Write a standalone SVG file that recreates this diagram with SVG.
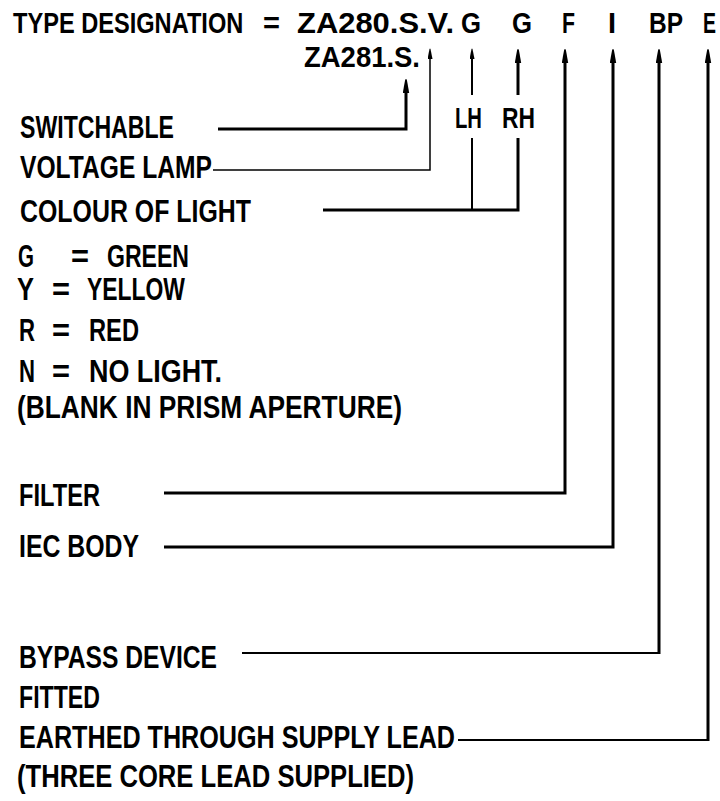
<svg xmlns="http://www.w3.org/2000/svg" width="720" height="801" viewBox="0 0 720 801">
<style>
.t{font-family:"Liberation Sans",Arial,sans-serif;font-weight:bold;font-size:31px;fill:#000}
.tt{font-size:29px}
.c{fill:none;stroke:#000;stroke-linejoin:miter;stroke-linecap:butt}
</style>
<defs>
<marker id="ahL" markerUnits="userSpaceOnUse" viewBox="0 0 15 7" markerWidth="15" markerHeight="7" refX="5" refY="3.5" orient="auto">
<path d="M0,0.3 L13,2.6 Q15,3.5 13,4.4 L0,6.7 Z" fill="#000"/>
</marker>
<marker id="ahS" markerUnits="userSpaceOnUse" viewBox="0 0 11 5" markerWidth="11" markerHeight="5" refX="4" refY="2.5" orient="auto">
<path d="M0,0 L10,2 Q11,2.5 10,3 L0,5 Z" fill="#000"/>
</marker>
</defs>
<rect width="720" height="801" fill="#fff"/>

<g id="title">
<text class="t" style="font-size:23.6px" transform="translate(13,33) scale(1,1.229)">TYPE DESIGNATION</text>
<text class="t tt" x="263" y="33">=</text>
<text class="t tt" x="297" y="33" textLength="157" lengthAdjust="spacingAndGlyphs">ZA280.S.V.</text>
<text class="t tt" x="461" y="33" textLength="20" lengthAdjust="spacingAndGlyphs">G</text>
<text class="t tt" x="512" y="33" textLength="20" lengthAdjust="spacingAndGlyphs">G</text>
<text class="t tt" x="562" y="33" textLength="13" lengthAdjust="spacingAndGlyphs">F</text>
<text class="t tt" x="608" y="33">I</text>
<text class="t tt" x="649" y="33" textLength="34" lengthAdjust="spacingAndGlyphs">BP</text>
<text class="t" style="font-size:19.5px" transform="translate(703,33) scale(1,1.487)">E</text>
</g>
<g id="za281">
<text class="t tt" x="304" y="67" textLength="116" lengthAdjust="spacingAndGlyphs">ZA281.S.</text>
</g>
<g id="lh"><text class="t tt" x="455" y="128" textLength="27" lengthAdjust="spacingAndGlyphs">LH</text></g>
<g id="rh"><text class="t tt" x="502" y="128" textLength="33" lengthAdjust="spacingAndGlyphs">RH</text></g>

<g id="switchable"><text class="t" x="20" y="138" textLength="154" lengthAdjust="spacingAndGlyphs">SWITCHABLE</text></g>
<g id="voltage-lamp"><text class="t" x="20" y="178" textLength="192" lengthAdjust="spacingAndGlyphs">VOLTAGE LAMP</text></g>
<g id="colour-of-light"><text class="t" x="20" y="222" textLength="231" lengthAdjust="spacingAndGlyphs">COLOUR OF LIGHT</text></g>

<g id="colour-key">
<text class="t" x="18" y="267" textLength="16" lengthAdjust="spacingAndGlyphs">G</text>
<text class="t" x="71" y="267" textLength="18" lengthAdjust="spacingAndGlyphs">=</text>
<text class="t" x="107" y="267" textLength="82" lengthAdjust="spacingAndGlyphs">GREEN</text>
<text class="t" x="17" y="300" textLength="17" lengthAdjust="spacingAndGlyphs">Y</text>
<text class="t" x="52" y="300" textLength="18" lengthAdjust="spacingAndGlyphs">=</text>
<text class="t" x="87" y="300" textLength="98" lengthAdjust="spacingAndGlyphs">YELLOW</text>
<text class="t" x="19" y="341" textLength="16" lengthAdjust="spacingAndGlyphs">R</text>
<text class="t" x="52" y="341" textLength="18" lengthAdjust="spacingAndGlyphs">=</text>
<text class="t" x="89" y="341" textLength="50" lengthAdjust="spacingAndGlyphs">RED</text>
<text class="t" x="19" y="382" textLength="16" lengthAdjust="spacingAndGlyphs">N</text>
<text class="t" x="52" y="382" textLength="18" lengthAdjust="spacingAndGlyphs">=</text>
<text class="t" x="89" y="382" textLength="133" lengthAdjust="spacingAndGlyphs">NO LIGHT.</text>
<text class="t" x="17" y="418" textLength="385" lengthAdjust="spacingAndGlyphs">(BLANK IN PRISM APERTURE)</text>
</g>

<g id="filter"><text class="t" x="19" y="506" textLength="81" lengthAdjust="spacingAndGlyphs">FILTER</text></g>
<g id="iec-body"><text class="t" x="19" y="557" textLength="120" lengthAdjust="spacingAndGlyphs">IEC BODY</text></g>
<g id="bypass-device">
<text class="t" x="19" y="668" textLength="198" lengthAdjust="spacingAndGlyphs">BYPASS DEVICE</text>
<text class="t" x="19" y="708" textLength="81" lengthAdjust="spacingAndGlyphs">FITTED</text>
</g>
<g id="earthed">
<text class="t" x="19" y="748" textLength="436" lengthAdjust="spacingAndGlyphs">EARTHED THROUGH SUPPLY LEAD</text>
<text class="t" x="17" y="787" textLength="397" lengthAdjust="spacingAndGlyphs">(THREE CORE LEAD SUPPLIED)</text>
</g>

<g id="connectors">
<path class="c" d="M218,129 H406 V88" stroke-width="3" marker-end="url(#ahL)"/>
<path class="c" d="M213,170 H430 V55" stroke-width="1.5" marker-end="url(#ahS)"/>
<path class="c" d="M472,95 V55" stroke-width="2" marker-end="url(#ahS)"/>
<path class="c" d="M518,95 V58" stroke-width="3" marker-end="url(#ahL)"/>
<path class="c" d="M472,138 V210" stroke-width="2"/>
<path class="c" d="M323,210 H518 V138" stroke-width="3"/>
<path class="c" d="M164,493 H565 V58" stroke-width="3" marker-end="url(#ahL)"/>
<path class="c" d="M164,547 H613 V58" stroke-width="3" marker-end="url(#ahL)"/>
<path class="c" d="M242,653 H659" stroke-width="1.8"/>
<path class="c" d="M659,654 V58" stroke-width="3" marker-end="url(#ahL)"/>
<path class="c" d="M458,740 H708" stroke-width="2"/>
<path class="c" d="M708,741 V58" stroke-width="3" marker-end="url(#ahL)"/>
</g>
</svg>
